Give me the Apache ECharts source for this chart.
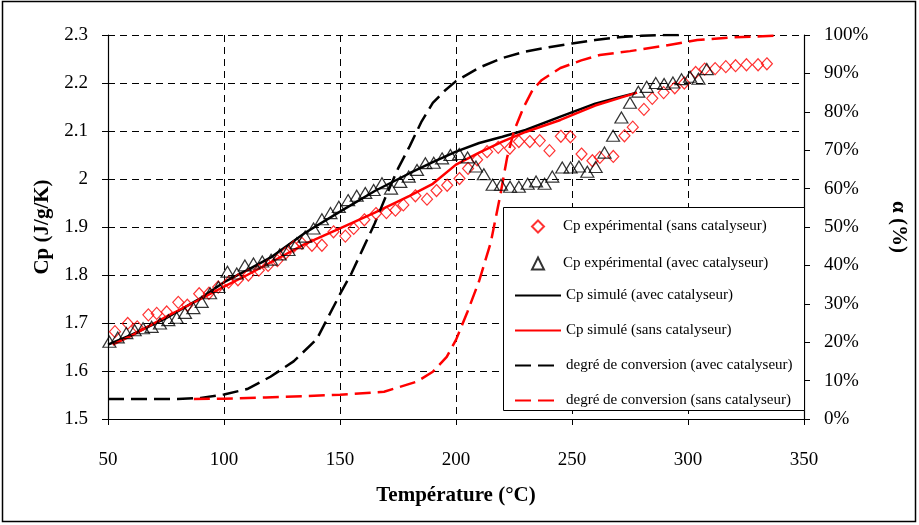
<!DOCTYPE html>
<html><head><meta charset="utf-8">
<script src="https://cdn.jsdelivr.net/npm/echarts@6/dist/echarts.min.js"></script>
<style>html,body{margin:0;padding:0;background:#fff}#c{width:919px;height:525px}</style>
</head><body><div id="c"></div>
<script>
// ---- data ----
const xTicks = [50, 100, 150, 200, 250, 300, 350];
const cpTicks = [1.5, 1.6, 1.7, 1.8, 1.9, 2.0, 2.1, 2.2, 2.3];
const alphaTicks = [0, 10, 20, 30, 40, 50, 60, 70, 80, 90, 100];

const names = [
  'Cp expérimental (sans catalyseur)',
  'Cp expérimental (avec catalyseur)',
  'Cp simulé (avec catalyseur)',
  'Cp simulé (sans catalyseur)',
  'degré de conversion (avec catalyseur)',
  'degré de conversion (sans catalyseur)'
];

// Cp expérimental (sans catalyseur) - diamonds
const tExpSans = [53, 58.5, 62.6, 67.4, 71, 75.3, 80.3, 84.2, 89.3, 93.5, 97.5, 102, 106, 110.5, 115, 119, 123, 126.5,
  130, 133.6, 137.9, 142.2, 147.2, 152.3, 155.9, 160.5, 165.5, 170, 173.9, 177.3, 182.5, 187.5, 191.6, 196.2, 201.5,
  205.2, 209.1, 213.4, 218.2, 223.2, 227.1, 231.8, 236.1, 240.3, 245.2, 249.3, 254.1, 258.8, 262, 267.8, 272.6, 276.2,
  281, 284.6, 289.5, 294.3, 298.4, 303.3, 307.2, 311.7, 316.3, 320.5, 325.2, 330.2, 334];
const cpExpSans = [1.682, 1.699, 1.692, 1.717, 1.72, 1.723, 1.743, 1.737, 1.761, 1.762, 1.775, 1.785, 1.79, 1.80, 1.81, 1.82, 1.83, 1.845,
  1.859, 1.866, 1.862, 1.862, 1.89, 1.881, 1.897, 1.915, 1.928, 1.93, 1.935, 1.946, 1.965, 1.958, 1.976, 1.987, 2.001,
  2.022, 2.04, 2.057, 2.066, 2.064, 2.078, 2.078, 2.08, 2.059, 2.089, 2.088, 2.052, 2.038, 2.045, 2.047, 2.09, 2.108,
  2.145, 2.168, 2.18, 2.19, 2.2, 2.222, 2.229, 2.23, 2.234, 2.236, 2.238, 2.238, 2.24];

// Cp expérimental (avec catalyseur) - triangles
const tExpAvec = [50.6, 54.2, 57.9, 61.5, 65.1, 68.8, 72.4, 76, 79.6, 83.2, 86.8, 90.4, 94, 97.6, 101.5, 105.5, 109, 112.7,
  116.5, 120.3, 124, 127.8, 131.4, 135, 138.6, 142.2, 145.9, 149.5, 153.5, 157.2, 160.9, 164.5, 168.1, 172, 176, 179.6,
  183.2, 186.8, 190.4, 194, 197.6, 201.4, 205, 208.6, 212, 215.8, 219.4, 223.3, 227.1, 230.9, 234.5, 238.2, 241.5, 245.8,
  249.4, 253, 256.6, 260.2, 264, 267.7, 271.3, 275, 278.6, 282.2, 286.1, 289.7, 293.5, 297.2, 300.9, 304.5, 308.1];
const cpExpAvec = [1.661, 1.670, 1.679, 1.685, 1.689, 1.692, 1.699, 1.706, 1.711, 1.721, 1.731, 1.744, 1.762, 1.775, 1.807, 1.803, 1.82, 1.824,
  1.828, 1.832, 1.843, 1.852, 1.866, 1.88, 1.897, 1.916, 1.929, 1.942, 1.956, 1.965, 1.971, 1.977, 1.991, 1.98, 1.994, 2.005,
  2.019, 2.033, 2.034, 2.043, 2.05, 2.052, 2.045, 2.026, 2.01, 1.988, 1.988, 1.984, 1.984, 1.99, 1.995, 1.99, 2.005, 2.024,
  2.024, 2.026, 2.015, 2.025, 2.055, 2.09, 2.128, 2.159, 2.182, 2.192, 2.2, 2.198, 2.201, 2.208, 2.213, 2.209, 2.229];

// Cp simulé (avec catalyseur)
const tSimAvec = [50, 60, 75, 90, 100, 110, 120, 135, 150, 165, 180, 190, 200, 210, 220, 230, 245, 260, 270, 278];
const cpSimAvec = [1.655, 1.675, 1.71, 1.752, 1.785, 1.81, 1.836, 1.888, 1.932, 1.975, 2.012, 2.035, 2.057, 2.075, 2.088, 2.102, 2.13, 2.157, 2.17, 2.18];

// Cp simulé (sans catalyseur)
const tSimSans = [52, 60, 75, 90, 100, 110, 120, 135, 150, 165, 180, 190, 200, 210, 220, 230, 245, 260, 270, 278];
const cpSimSans = [1.655, 1.673, 1.713, 1.75, 1.776, 1.80, 1.826, 1.865, 1.897, 1.93, 1.965, 1.99, 2.03, 2.055, 2.078, 2.098, 2.123, 2.153, 2.168, 2.18];

// degré de conversion (avec catalyseur), %
const tConvAvec = [50, 80, 90, 100, 110, 120, 130, 140, 150, 155, 160, 165, 170, 175, 180, 185, 190, 195, 200, 210, 220, 230, 240, 250, 260, 270, 280, 290, 297];
const aConvAvec = [5.2, 5.2, 5.5, 6.4, 7.8, 11, 15, 20.8, 32.5, 38, 44.5, 51, 58.3, 65.2, 71, 77.3, 82.3, 85.4, 88, 91.5, 94, 95.7, 96.8, 97.8, 98.7, 99.4, 99.8, 100, 100];

// degré de conversion (sans catalyseur), %
const tConvSans = [87, 100, 118, 150, 169, 183, 190, 196, 200, 205, 210, 215, 219, 222, 225, 229, 233, 237, 245, 254, 262, 275, 290, 304, 320, 337];
const aConvSans = [5.2, 5.3, 5.6, 6.3, 7.1, 9.7, 12.3, 16.2, 20.6, 28, 36, 46, 58, 68, 75, 81, 85.7, 88.3, 91.4, 93.4, 94.8, 95.8, 97.2, 98.7, 99.4, 99.8];

const pairs = (xs, ys) => xs.map((x, i) => [x, ys[i]]);

const serif = 'Liberation Serif';
const chart = echarts.init(document.getElementById('c'), null, {renderer: 'canvas'});
const dashGrid = {show: true, lineStyle: {color: '#000', type: [7, 5], width: 1}};
const legendText = {fontFamily: serif, fontSize: 15, color: '#000'};

chart.setOption({
  backgroundColor: '#fff',
  animation: false,
  textStyle: {fontFamily: serif},
  grid: {left: 108, right: 115, top: 35, bottom: 106, containLabel: false},
  xAxis: {
    type: 'value', min: xTicks[0], max: xTicks[xTicks.length - 1], interval: 50,
    name: 'Température (°C)', nameLocation: 'middle', nameGap: 66,
    nameTextStyle: {fontFamily: serif, fontWeight: 'bold', fontSize: 21, color: '#000'},
    axisLine: {show: true, onZero: false, lineStyle: {color: '#000', width: 1.2}},
    axisTick: {show: true, inside: false, length: 6, lineStyle: {color: '#000'}},
    axisLabel: {fontFamily: serif, fontSize: 19, color: '#000', margin: 32},
    splitLine: dashGrid
  },
  yAxis: [{
    type: 'value', min: cpTicks[0], max: cpTicks[cpTicks.length - 1], interval: 0.1,
    name: 'Cp (J/g/K)', nameLocation: 'middle', nameGap: 52, nameRotate: 90,
    nameTextStyle: {fontFamily: serif, fontWeight: 'bold', fontSize: 21, color: '#000'},
    axisLine: {show: true, lineStyle: {color: '#000', width: 1.2}},
    axisTick: {show: true, inside: false, length: 6, lineStyle: {color: '#000'}},
    axisLabel: {fontFamily: serif, fontSize: 19, color: '#000', margin: 20,
      formatter: v => String(Math.round(v * 10) / 10)},
    splitLine: dashGrid
  }, {
    type: 'value', position: 'right', min: alphaTicks[0], max: alphaTicks[alphaTicks.length - 1], interval: 10,
    name: 'α (%)', nameLocation: 'middle', nameGap: 84, nameRotate: -90,
    nameTextStyle: {fontFamily: serif, fontWeight: 'bold', fontSize: 21, color: '#000'},
    axisLine: {show: true, lineStyle: {color: '#000', width: 1.2}},
    axisTick: {show: true, inside: false, length: 6, lineStyle: {color: '#000'}},
    axisLabel: {fontFamily: serif, fontSize: 19, color: '#000', margin: 20, formatter: '{value}%'},
    splitLine: {show: false}
  }],
  legend: [{
    orient: 'vertical', left: 531, top: 219, itemWidth: 12, itemHeight: 12, itemGap: 22,
    padding: 0, backgroundColor: 'transparent', borderWidth: 0, symbolKeepAspect: true,
    textStyle: Object.assign({padding: [0, 0, 0, 14]}, legendText),
    data: [{name: names[0]}, {name: names[1]}]
  }, {
    orient: 'vertical', left: 514, top: 288, itemWidth: 46, itemHeight: 14, itemGap: 20,
    padding: 0, backgroundColor: 'transparent', borderWidth: 0,
    textStyle: Object.assign({padding: [0, 0, 0, 0]}, legendText),
    data: names.slice(2).map(n => ({name: n, itemStyle: {opacity: 0}}))
  }],
  graphic: [
    {type: 'rect', z: 3, shape: {x: 503.5, y: 207.5, width: 301, height: 203},
      style: {fill: '#fff', stroke: '#000', lineWidth: 1}},
    {type: 'rect', z: 0, silent: true, shape: {x: 2.5, y: 1.5, width: 913, height: 520},
      style: {fill: 'none', stroke: '#000', lineWidth: 1.5}}
  ],
  series: [
    {name: names[0], type: 'scatter', data: pairs(tExpSans, cpExpSans), symbol: 'diamond', symbolSize: [11, 12],
      itemStyle: {color: 'rgba(255,255,255,0)', borderColor: '#ff0000', borderWidth: 1.2}, z: 2},
    {name: names[1], type: 'scatter', data: pairs(tExpAvec, cpExpAvec), symbol: 'triangle', symbolSize: [13, 11],
      itemStyle: {color: 'rgba(255,255,255,0)', borderColor: '#000', borderWidth: 1.2}, z: 2},
    {name: names[2], type: 'line', data: pairs(tSimAvec, cpSimAvec), showSymbol: false, symbol: 'none',
      lineStyle: {color: '#000', width: 2.5}, itemStyle: {color: '#000'}, z: 2},
    {name: names[3], type: 'line', data: pairs(tSimSans, cpSimSans), showSymbol: false, symbol: 'none',
      lineStyle: {color: '#ff0000', width: 2.5}, itemStyle: {color: '#ff0000'}, z: 2},
    {name: names[4], type: 'line', yAxisIndex: 1, data: pairs(tConvAvec, aConvAvec), showSymbol: false, symbol: 'none',
      lineStyle: {color: '#000', width: 2.5, type: [16, 7]}, itemStyle: {color: '#000'}, z: 2},
    {name: names[5], type: 'line', yAxisIndex: 1, data: pairs(tConvSans, aConvSans), showSymbol: false, symbol: 'none',
      lineStyle: {color: '#ff0000', width: 2.5, type: [16, 7]}, itemStyle: {color: '#ff0000'}, z: 2}
  ]
});
</script></body></html>
